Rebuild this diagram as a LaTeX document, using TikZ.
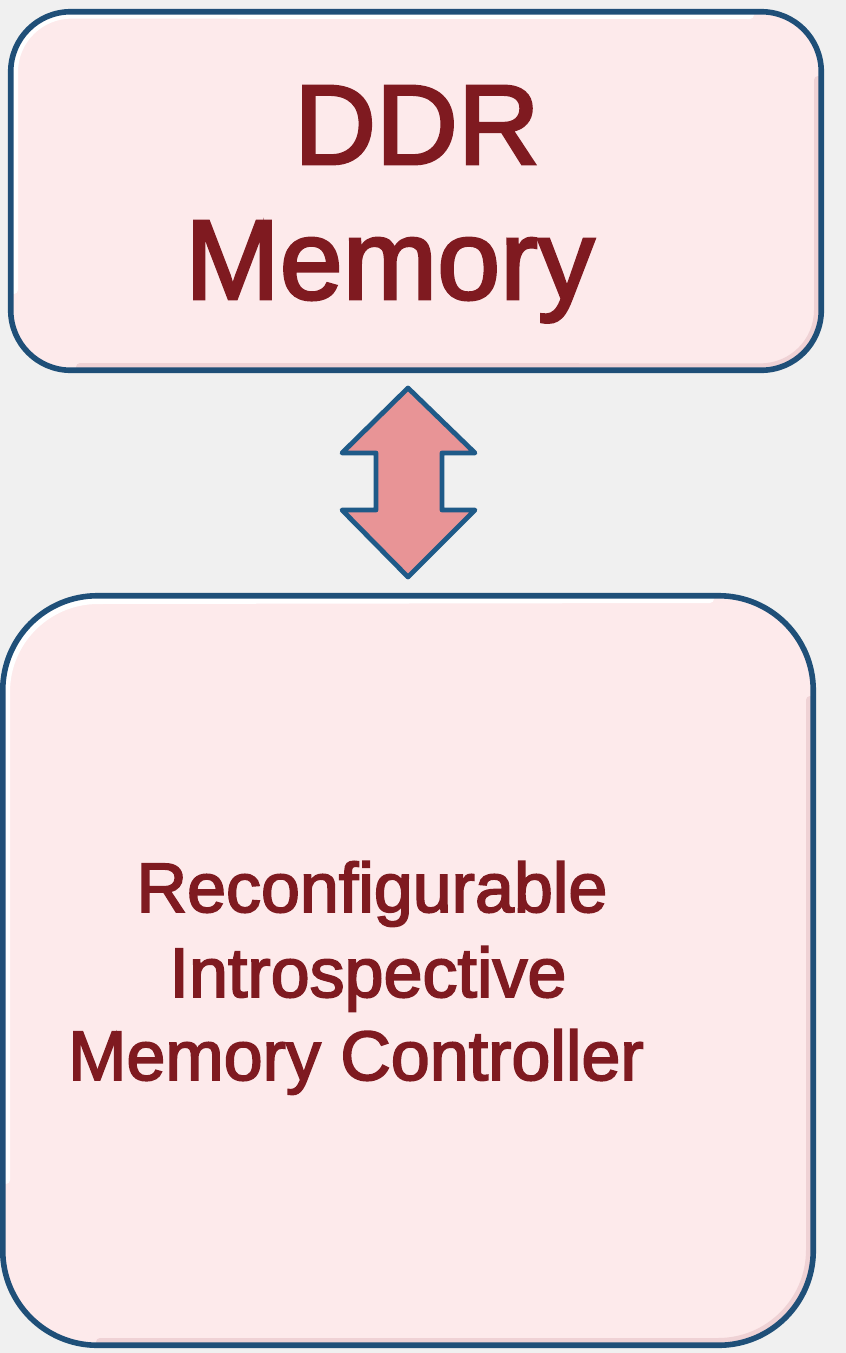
\documentclass[tikz,border=0pt]{standalone}
\usepackage{fontspec}
\setmainfont{Liberation Sans}
\newfontfamily\heavysans[FakeBold=2.5]{Liberation Sans}
\definecolor{bgc}{HTML}{F0F0F0}
\definecolor{boxfill}{HTML}{FDEAEB}
\definecolor{boxline}{HTML}{1F4F78}
\definecolor{txtc}{HTML}{7F1A20}
\definecolor{arrfill}{HTML}{E89496}
\definecolor{arrline}{HTML}{1F5A88}
\definecolor{shadec}{HTML}{EFD2D5}
\tikzset{
  boxbody/.style={fill=boxfill, inner sep=0pt},
  boxedge/.style={draw=boxline, line width=4.2pt},
  bigtxt/.style={text=txtc, anchor=base, inner sep=0pt, font=\heavysans\fontsize{85}{98}\selectfont},
  midtxt/.style={text=txtc, anchor=base, inner sep=0pt, font=\heavysans\fontsize{52.5}{63}\selectfont},
  hilite/.style={draw=white, line width=6pt, line cap=round},
  shadow/.style={draw=shadec, line width=6pt, line cap=round},
  arrowshape/.style={draw=arrline, line width=3.6pt, fill=arrfill, line join=round}
}
\begin{document}
\begin{tikzpicture}[x=0.75pt,y=-0.75pt]
\fill[bgc] (0,0) rectangle (846,1353);
\useasboundingbox (0,0) rectangle (846,1353);

% top box
\node[boxbody, rounded corners=45pt, minimum width=607.5pt, minimum height=268.5pt] (ddr) at (416,191) {};
\draw[shadow] (818,80) -- (818,310) arc[start angle=0, end angle=-90, radius=43pt] -- (80,367);
\draw[hilite] (14,290) -- (14,72) arc[start angle=180, end angle=90, radius=43pt] -- (750,15);
\draw[boxedge, rounded corners=45pt] (ddr.south west) rectangle (ddr.north east);
% bottom box
\node[boxbody, rounded corners=71pt, minimum width=607.5pt, minimum height=561.75pt] (rimc) at (408,970.5) {};
\draw[shadow] (810,700) -- (810,1250) arc[start angle=0, end angle=-90, radius=69pt] -- (100,1342);
\draw[hilite] (6,1180) -- (6,692) arc[start angle=180, end angle=90, radius=69pt] -- (710,599);
\draw[boxedge, rounded corners=71pt] (rimc.south west) rectangle (rimc.north east);

% texts
\node[bigtxt] (t1) at (417,164) {DDR};
\node[bigtxt] (t2) at (390,299) {Memory};
\node[midtxt] (t3) at (372,912) {Reconfigurable};
\node[midtxt] (t4) at (368,997) {Introspective};
\node[midtxt] (t5) at (356,1080) {Memory Controller};

% double arrow between the boxes
\draw[arrowshape] (408,388) -- (475,453) -- (442,453) -- (442,510) -- (475,510)
  -- (408,577) -- (342,510) -- (376,510) -- (376,453) -- (342,453) -- cycle;
\end{tikzpicture}
\end{document}
